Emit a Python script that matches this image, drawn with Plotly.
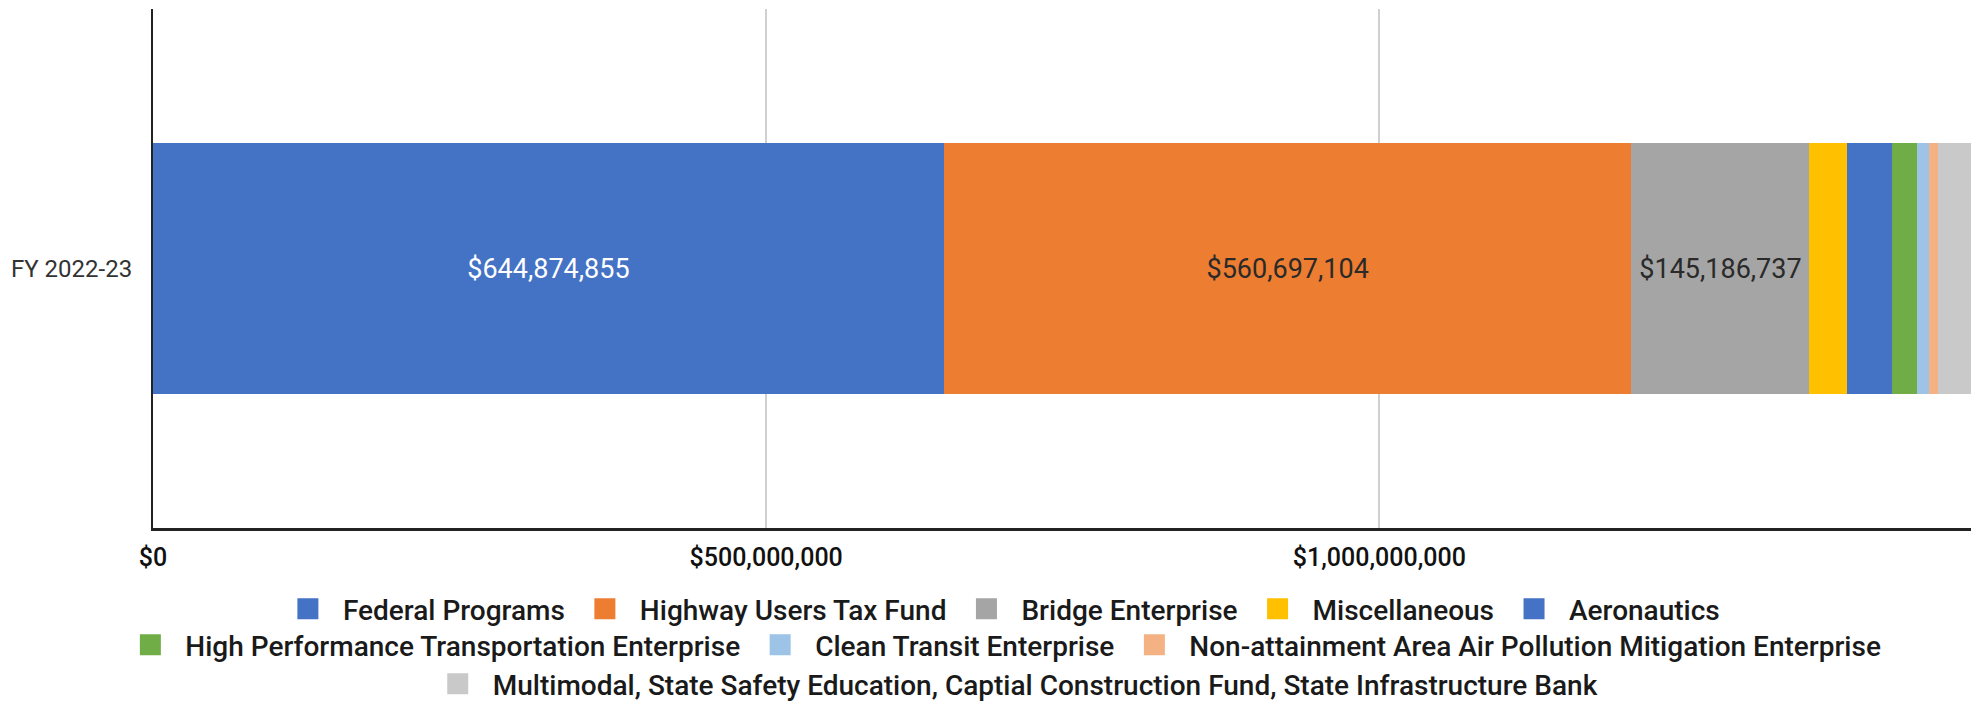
import plotly.graph_objects as go

category = ["FY 2022-23"]
series_names = [
    "Federal Programs",
    "Highway Users Tax Fund",
    "Bridge Enterprise",
    "Miscellaneous",
    "Aeronautics",
    "High Performance Transportation Enterprise",
    "Clean Transit Enterprise",
    "Non-attainment Area Air Pollution Mitigation Enterprise",
    "Multimodal, State Safety Education, Captial Construction Fund, State Infrastructure Bank",
]
series_values = [644874855, 560697104, 145186737, 30500000, 36700000, 20400000, 9500000, 7700000, 26900000]
labeled = [True, True, True, False, False, False, False, False, False]
colors = ["#4472C4", "#ED7D31", "#A5A5A5", "#FFC000", "#4472C4", "#70AD47", "#9DC3E6", "#F4B183", "#C9C9C9"]
label_colors = ["#FFFFFF", "#2a2a2a", "#2a2a2a", "#222", "#222", "#222", "#222", "#222", "#222"]
legend_rows = ["legend", "legend", "legend", "legend", "legend", "legend2", "legend2", "legend2", "legend3"]
x_ticks = [0, 500000000, 1000000000]
x_tick_text = ["$0", "$500,000,000", "$1,000,000,000"]

fig = go.Figure()
for name, val, lab, col, lcol, lg in zip(series_names, series_values, labeled, colors, label_colors, legend_rows):
    fig.add_trace(go.Bar(
        x=[val], y=category, orientation="h", name=name,
        marker=dict(color=col, line=dict(width=0)),
        text=[f"${val:,}" if lab else ""],
        textposition="inside", insidetextanchor="middle",
        textfont=dict(family="Roboto", size=27, color=lcol),
        showlegend=False, legendgroup=name,
    ))
    fig.add_trace(go.Scatter(
        x=[None], y=[None], mode="markers", name=name, legendgroup=name,
        marker=dict(symbol="square", size=16, color=col, line=dict(color=col, width=5)),
        legend=lg, showlegend=True, hoverinfo="skip",
    ))

total = sum(series_values)
legend_common = dict(
    orientation="h", xref="container", yref="container", xanchor="center", yanchor="middle",
    font=dict(family="Roboto", size=28, color="#1a1a1a", weight=500),
    itemwidth=60,
    bgcolor="rgba(0,0,0,0)", itemclick=False, itemdoubleclick=False,
)
fig.update_layout(
    width=1978, height=702,
    margin=dict(l=153, r=7, t=9, b=174),
    paper_bgcolor="white", plot_bgcolor="white",
    barmode="stack", bargap=0.516,
    showlegend=True,
    legend=dict(x=0.505, y=1 - 609 / 702, **legend_common),
    legend2=dict(x=0.506, y=1 - 645 / 702, **legend_common),
    legend3=dict(x=0.512, y=1 - 684 / 702, **legend_common),
    xaxis=dict(
        range=[0, total], tickvals=x_ticks, ticktext=x_tick_text,
        showgrid=True, gridcolor="#d0d0d0", gridwidth=2,
        zeroline=False, showline=True, linecolor="#222", linewidth=3,
        ticks="", ticklabelstandoff=5,
        tickfont=dict(family="Roboto", size=25, color="#111", weight=500),
    ),
    yaxis=dict(
        showline=True, linecolor="#222", linewidth=2, showgrid=False, zeroline=False,
        ticks="", ticklabelstandoff=14,
        tickfont=dict(family="Roboto", size=24, color="#333"),
    ),
)
fig.write_html("out.html")
